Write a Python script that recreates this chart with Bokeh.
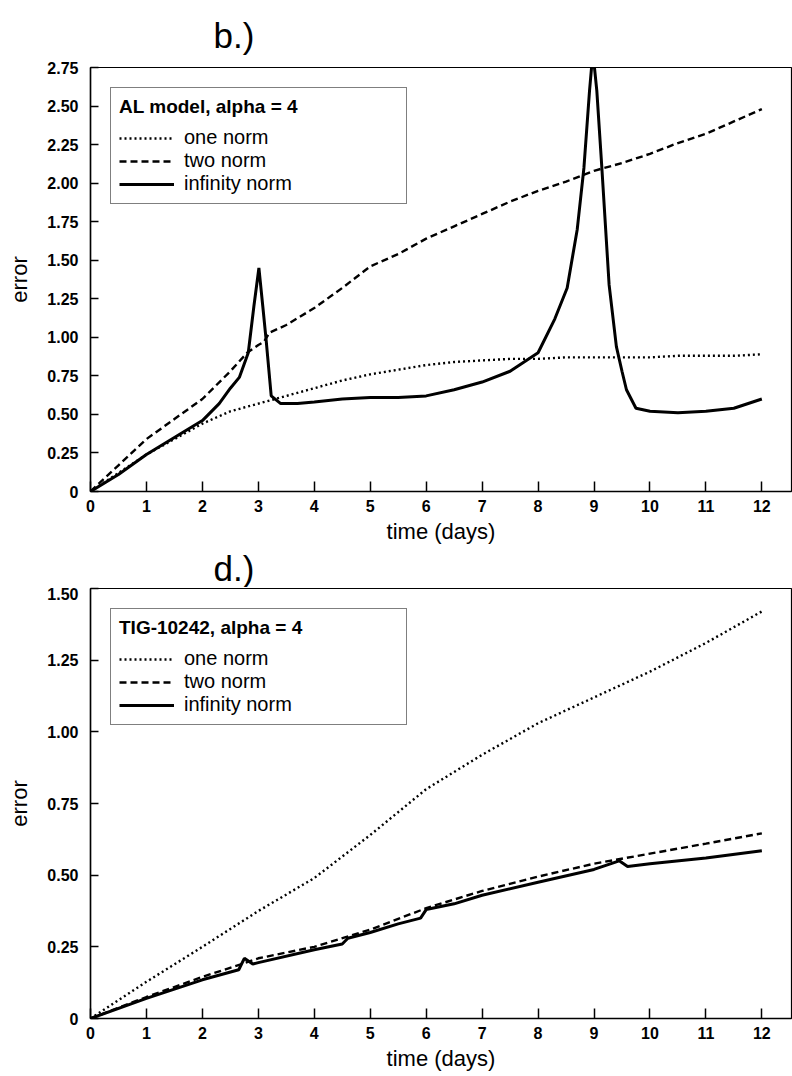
from bokeh.plotting import figure
from bokeh.layouts import column
from bokeh.models import Range1d, FixedTicker, Legend, LegendItem, NumeralTickFormatter, Title
from bokeh.embed import file_html
from bokeh.resources import INLINE

# ---------------- data ----------------
x_ticks = list(range(0, 13))
b_y_ticks = [0, 0.25, 0.5, 0.75, 1.0, 1.25, 1.5, 1.75, 2.0, 2.25, 2.5, 2.75]
d_y_ticks = [0, 0.25, 0.5, 0.75, 1.0, 1.25, 1.5]

# panel b.) AL model, alpha = 4
b_one_t = [0, 0.5, 1, 1.5, 2, 2.5, 3, 3.5, 4, 4.5, 5, 5.5, 6, 6.5, 7, 7.5, 8, 8.5, 9, 9.5, 10, 10.5, 11, 11.5, 12]
b_one_v = [0, 0.12, 0.24, 0.34, 0.44, 0.52, 0.57, 0.62, 0.67, 0.72, 0.76, 0.79, 0.82, 0.84, 0.85, 0.86, 0.86, 0.87, 0.87, 0.87, 0.87, 0.88, 0.88, 0.88, 0.89]

b_two_t = [0, 0.5, 1, 1.5, 2, 2.5, 2.8, 3.0, 3.1, 3.2, 3.5, 4, 4.5, 5, 5.5, 6, 6.5, 7, 7.5, 8, 8.5, 9, 9.5, 10, 10.5, 11, 11.5, 12]
b_two_v = [0, 0.17, 0.34, 0.47, 0.6, 0.78, 0.9, 0.95, 0.97, 1.03, 1.08, 1.19, 1.32, 1.46, 1.54, 1.64, 1.72, 1.80, 1.88, 1.95, 2.01, 2.08, 2.13, 2.19, 2.26, 2.32, 2.40, 2.48]

b_inf_t = [0, 0.5, 1, 1.5, 2, 2.3, 2.5, 2.66, 2.82, 2.92, 3.01, 3.08, 3.14, 3.23, 3.4, 3.7, 4, 4.5, 5, 5.5, 6, 6.5, 7, 7.5, 8, 8.3, 8.52, 8.7, 8.82, 8.92, 8.98, 9.05, 9.14, 9.27, 9.4, 9.5, 9.58, 9.75, 10, 10.5, 11, 11.5, 12]
b_inf_v = [0, 0.11, 0.24, 0.35, 0.46, 0.57, 0.67, 0.74, 0.9, 1.2, 1.45, 1.2, 0.98, 0.62, 0.57, 0.57, 0.58, 0.6, 0.61, 0.61, 0.62, 0.66, 0.71, 0.78, 0.9, 1.12, 1.32, 1.7, 2.1, 2.6, 2.85, 2.6, 2.1, 1.34, 0.94, 0.78, 0.66, 0.54, 0.52, 0.51, 0.52, 0.54, 0.6]

# panel d.) TIG-10242, alpha = 4
d_one_t = [0, 1, 2, 3, 4, 5, 5.5, 6, 7, 8, 9, 10, 11, 12]
d_one_v = [0, 0.128, 0.25, 0.375, 0.49, 0.64, 0.72, 0.80, 0.92, 1.03, 1.12, 1.21, 1.31, 1.42]

d_two_t = [0, 1, 2, 2.7, 3, 4, 5, 6, 7, 8, 9, 10, 11, 12]
d_two_v = [0, 0.075, 0.145, 0.19, 0.21, 0.25, 0.31, 0.385, 0.445, 0.495, 0.54, 0.575, 0.61, 0.646]

d_inf_t = [0, 1, 2, 2.65, 2.75, 2.9, 3, 4, 4.5, 4.6, 5, 5.5, 5.9, 6.0, 6.5, 7, 8, 9, 9.45, 9.6, 10, 11, 12]
d_inf_v = [0, 0.07, 0.135, 0.17, 0.21, 0.19, 0.195, 0.24, 0.26, 0.28, 0.30, 0.33, 0.35, 0.38, 0.40, 0.43, 0.475, 0.52, 0.55, 0.53, 0.54, 0.56, 0.585]

FONT = "Liberation Sans"


def panel_title(text, standoff):
    return Title(text=text, align="left", offset=123, text_font=FONT,
                 text_font_size="35px", text_font_style="normal",
                 text_color="black", standoff=standoff)


def make_panel(ymax, yticks, height, btop, bbottom, legend_title, one, two, inf):
    p = figure(width=792, height=height, output_backend="svg", toolbar_location=None,
               x_range=Range1d(0, 12.53), y_range=Range1d(0, ymax),
               min_border_left=90, min_border_right=1,
               min_border_top=btop, min_border_bottom=bbottom,
               background_fill_color="white", border_fill_color="white")
    p.outline_line_color = "black"
    p.outline_line_width = 1.2
    p.grid.visible = False

    p.xaxis.ticker = FixedTicker(ticks=x_ticks)
    p.yaxis.ticker = FixedTicker(ticks=yticks)
    p.yaxis.formatter = NumeralTickFormatter(format="0.00")
    p.yaxis.major_label_overrides = {0: "0"}
    for ax in (p.xaxis, p.yaxis):
        ax.axis_line_color = "black"
        ax.axis_line_width = 1.5
        ax.major_tick_line_color = "black"
        ax.major_tick_line_width = 1.5
        ax.major_tick_out = 0
        ax.minor_tick_line_color = None
        ax.major_label_text_font = FONT
        ax.major_label_text_font_style = "bold"
        ax.major_label_text_font_size = "16px"
        ax.major_label_text_color = "black"
        ax.axis_label_text_font = FONT
        ax.axis_label_text_font_style = "normal"
        ax.axis_label_text_font_size = "22px"
        ax.axis_label_text_color = "black"
    p.xaxis.major_tick_in = 10
    p.yaxis.major_tick_in = 8
    p.xaxis.major_label_standoff = 8
    p.yaxis.major_label_standoff = 12
    p.xaxis.axis_label = "time (days)"
    p.yaxis.axis_label = "error"
    p.xaxis.axis_label_standoff = 4
    p.yaxis.axis_label_standoff = 12

    r1 = p.line(one[0], one[1], line_color="black", line_width=2.4, line_dash="2 3")
    r2 = p.line(two[0], two[1], line_color="black", line_width=2.4, line_dash="7 4")
    r3 = p.line(inf[0], inf[1], line_color="black", line_width=3)

    legend = Legend(items=[LegendItem(label="one norm", renderers=[r1]),
                           LegendItem(label="two norm", renderers=[r2]),
                           LegendItem(label="infinity norm", renderers=[r3])],
                    title=legend_title, location="top_left", margin=20, padding=8,
                    spacing=0, glyph_width=55, glyph_height=20, label_height=20,
                    label_width=214, label_standoff=10,
                    title_text_font=FONT, title_text_font_style="bold",
                    title_text_font_size="19px", title_text_color="black",
                    title_standoff=8,
                    label_text_font=FONT, label_text_font_size="20px",
                    label_text_color="black",
                    border_line_color="black", border_line_width=1.2,
                    background_fill_color="white", background_fill_alpha=1)
    p.add_layout(legend)
    return p


pb = make_panel(2.75, b_y_ticks, 587, 67, 95, "AL model, alpha = 4",
                (b_one_t, b_one_v), (b_two_t, b_two_v), (b_inf_t, b_inf_v))
pb.add_layout(panel_title("b.)", 25), "above")
pb.add_layout(panel_title("d.)", 0), "below")

pd_ = make_panel(1.5, d_y_ticks, 489, 1, 58, "TIG-10242, alpha = 4",
                 (d_one_t, d_one_v), (d_two_t, d_two_v), (d_inf_t, d_inf_v))

layout = column(pb, pd_, spacing=0)
open("out.html", "w").write(file_html(layout, INLINE))
